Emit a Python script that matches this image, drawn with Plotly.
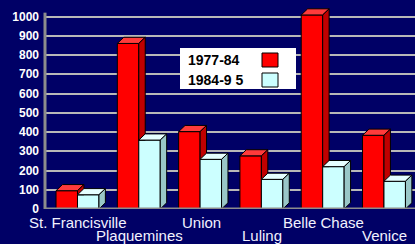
import plotly.graph_objects as go

categories = ["St. Francisville", "Plaquemines", "Union", "Luling", "Belle Chase", "Venice"]
series_names = ["1977-84", "1984-9 5"]
values_1977_84 = [95, 860, 402, 276, 1008, 383]
values_1984_95 = [74, 358, 258, 154, 220, 144]
y_tick_values = [0, 100, 200, 300, 400, 500, 600, 700, 800, 900, 1000]

BG = "#000066"
RED = dict(front="#ff0000", top="#ff3b3b", side="#c00000")
CYAN = dict(front="#ccffff", top="#e6ffff", side="#99c7c7")
W = 0.35      # bar width (category units)
DX = 0.105    # depth offset x (category units)
DY = 32       # depth offset y (value units)

xs = list(range(len(categories)))
fig = go.Figure()

def poly(px, py, color):
    fig.add_trace(go.Scatter(x=px + [px[0]], y=py + [py[0]], mode="lines", fill="toself",
                             fillcolor=color, line=dict(color="black", width=1),
                             hoverinfo="skip", showlegend=False))

# front faces as bars
fig.add_trace(go.Bar(x=xs, y=values_1977_84, width=W, offset=-W, name=series_names[0],
                     marker=dict(color=RED["front"], line=dict(color="black", width=1)),
                     showlegend=False))
fig.add_trace(go.Bar(x=xs, y=values_1984_95, width=W, offset=0, name=series_names[1],
                     marker=dict(color=CYAN["front"], line=dict(color="black", width=1)),
                     showlegend=False))

# depth faces derived from the data
for i, (r, c) in enumerate(zip(values_1977_84, values_1984_95)):
    x0, x1 = i - W, i
    poly([x0, x1, x1 + DX, x0 + DX], [r, r, r + DY, r + DY], RED["top"])
    poly([x1, x1 + DX, x1 + DX, x1], [c, c, r + DY, r], RED["side"])
    x0, x1 = i, i + W
    poly([x0, x1, x1 + DX, x0 + DX], [c, c, c + DY, c + DY], CYAN["top"])
    poly([x1, x1 + DX, x1 + DX, x1], [0, DY, c + DY, c], CYAN["side"])

# axis lines
fig.add_shape(type="line", xref="x domain", yref="y", x0=0.0, x1=0.0, y0=0, y1=1020,
              line=dict(color="#8c8c8c", width=3), layer="above")
fig.add_shape(type="line", xref="x domain", yref="y", x0=0.0, x1=1.0, y0=0, y1=0,
              line=dict(color="#8c8c8c", width=3), layer="above")

# category labels (two staggered rows)
for i, name in enumerate(categories):
    fig.add_annotation(x=i, y=0, xref="x", yref="paper", text=name, showarrow=False,
                       xanchor="center", yanchor="middle", xshift=1,
                       yshift=-13 if i % 2 == 0 else -26,
                       font=dict(family="Liberation Sans, Arial", size=15, color="#f2f2ff"))

# legend box (text left, swatch right)
fig.add_shape(type="rect", xref="paper", yref="paper", x0=(180 - 45) / 370, x1=(296 - 45) / 370,
              y0=(209 - 89) / 209, y1=(209 - 48) / 209, fillcolor="white", line=dict(width=0),
              layer="above")
for k, (nm, col) in enumerate(zip(series_names, [RED["front"], CYAN["front"]])):
    yc = 60 if k == 0 else 80
    fig.add_annotation(x=(186 - 45) / 370, y=(209 - yc) / 209, xref="paper", yref="paper",
                       text="<b>" + nm + "</b>", showarrow=False, xanchor="left", yanchor="middle",
                       font=dict(family="Liberation Sans, Arial", size=14, color="black"))
    fig.add_shape(type="rect", xref="paper", yref="paper", x0=(262 - 45) / 370, x1=(278 - 45) / 370,
                  y0=(209 - (yc + 7)) / 209, y1=(209 - (yc - 7)) / 209, fillcolor=col,
                  line=dict(color="black", width=1), layer="above")

fig.update_layout(
    width=415, height=244, margin=dict(l=45, r=0, t=0, b=35),
    paper_bgcolor=BG, plot_bgcolor=BG, barmode="overlay", showlegend=False,
    xaxis=dict(range=[-0.53, 5.506], showticklabels=False, showgrid=False, zeroline=False,
               showline=False, fixedrange=True),
    yaxis=dict(range=[0, 1085.7], tickvals=y_tick_values, ticktext=[str(v) for v in y_tick_values],
               showgrid=True, gridcolor="#b8b8b8", gridwidth=2, zeroline=False, showline=False,
               ticklabelstandoff=5, fixedrange=True,
               tickfont=dict(family="Liberation Sans, Arial", size=12, color="white", weight="bold")),
)

fig.write_html("out.html", config={"displayModeBar": False, "staticPlot": True},
               post_script="document.body.style.margin='0';document.body.style.overflow='hidden';")
